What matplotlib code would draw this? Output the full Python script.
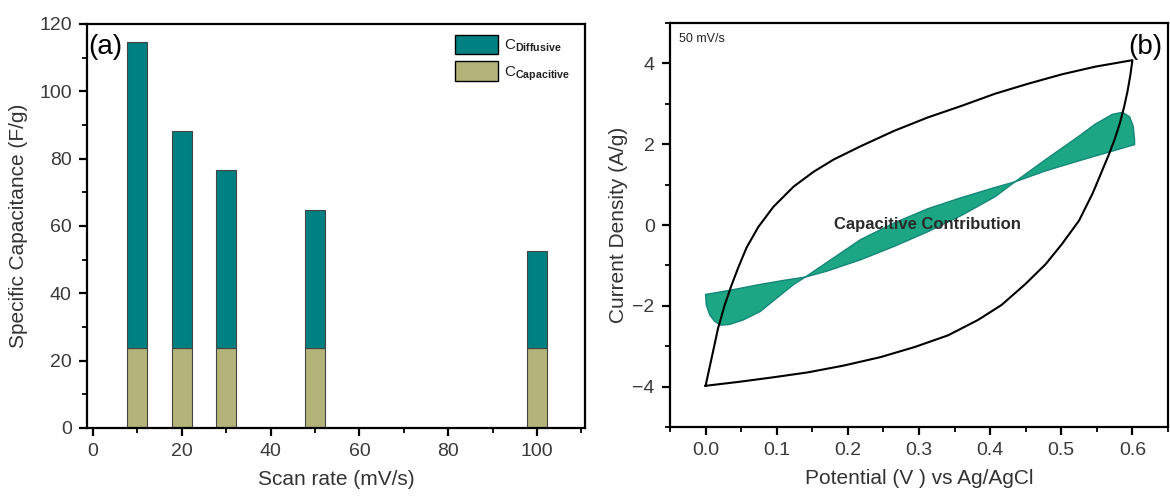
import matplotlib
matplotlib.use("Agg")
import matplotlib.pyplot as plt
from matplotlib.ticker import MultipleLocator, FormatStrFormatter

plt.rcParams['font.family'] = ['Liberation Sans', 'DejaVu Sans']
plt.rcParams['mathtext.fontset'] = 'custom'
plt.rcParams['mathtext.rm'] = 'Liberation Sans'
plt.rcParams['mathtext.bf'] = 'Liberation Sans:bold'

# (a) capacitance split per scan rate
scan_rates = [10, 20, 30, 50, 100]
total_cap = [114.8, 88.1, 76.5, 64.8, 52.6]
capacitive_cap = [23.9, 23.9, 23.9, 23.9, 23.9]
diffusive_cap = [t - c for t, c in zip(total_cap, capacitive_cap)]

# (b) CV at 50 mV/s, anodic and cathodic sweeps
cv_fwd_v = [0.000, 0.0104, 0.0175, 0.0269, 0.0363, 0.0458, 0.0576, 0.0741, 0.0953,
            0.1237, 0.152, 0.180, 0.218, 0.265, 0.312, 0.360, 0.407, 0.454, 0.501,
            0.548, 0.600]
cv_fwd_i = [-3.98, -3.14, -2.56, -1.98, -1.50, -1.06, -0.56, -0.05, 0.45,
            0.95, 1.32, 1.62, 1.95, 2.33, 2.66, 2.95, 3.25, 3.50, 3.73,
            3.92, 4.08]
cv_rev_v = [0.600, 0.597, 0.593, 0.588, 0.582, 0.575, 0.567, 0.558, 0.544, 0.525,
            0.501, 0.478, 0.449, 0.416, 0.383, 0.341, 0.294, 0.246, 0.194, 0.143,
            0.095, 0.048, 0.000]
cv_rev_i = [4.08, 3.70, 3.30, 2.90, 2.50, 2.12, 1.75, 1.37, 0.78, 0.11,
            -0.47, -0.97, -1.47, -1.98, -2.35, -2.73, -3.02, -3.27, -3.48, -3.65,
            -3.77, -3.88, -3.98]

# capacitive part of the current (closed loop, crosses itself twice)
cap_fwd_v = [0.000, 0.039, 0.077, 0.110, 0.140, 0.171, 0.218, 0.265, 0.312, 0.360,
             0.407, 0.435, 0.478, 0.525, 0.548, 0.572, 0.586, 0.596, 0.601, 0.603]
cap_fwd_i = [-1.72, -1.60, -1.47, -1.37, -1.29, -1.14, -0.86, -0.53, -0.17, 0.24,
             0.70, 1.07, 1.62, 2.20, 2.50, 2.74, 2.79, 2.68, 2.45, 2.12]
cap_rev_v = [0.603, 0.572, 0.525, 0.478, 0.435, 0.407, 0.360, 0.312, 0.265, 0.218,
             0.171, 0.140, 0.124, 0.100, 0.077, 0.053, 0.034, 0.022, 0.013, 0.006,
             0.001]
cap_rev_i = [1.99, 1.83, 1.59, 1.34, 1.07, 0.93, 0.68, 0.40, 0.05, -0.36,
             -0.92, -1.29, -1.47, -1.81, -2.14, -2.35, -2.46, -2.48, -2.39, -2.23,
             -1.98]

teal = '#008080'
olive = '#b3b37a'
tick_col = '#3a3a3a'


def style_axes(ax):
    for s in ax.spines.values():
        s.set_linewidth(1.6)
    ax.tick_params(which='major', direction='out', length=6, width=1.6,
                   labelsize=14, labelcolor=tick_col, pad=5,
                   top=False, right=False)
    ax.tick_params(which='minor', direction='out', length=3.5, width=1.3,
                   top=False, right=False)


fig = plt.figure(figsize=(11.7, 5.0), dpi=100)

# ---- panel (a) ----
ax1 = fig.add_axes([87 / 1170, 72 / 500, 498 / 1170, 404 / 500])
b_cap = ax1.bar(scan_rates, capacitive_cap, width=4.5, color=olive,
                edgecolor='#444444', linewidth=0.8)
b_dif = ax1.bar(scan_rates, diffusive_cap, width=4.5, bottom=capacitive_cap,
                color=teal, edgecolor='#444444', linewidth=0.8)
ax1.set_xlim(-1.35, 110.8)
ax1.set_ylim(0, 120)
ax1.xaxis.set_major_locator(MultipleLocator(20))
ax1.xaxis.set_minor_locator(MultipleLocator(10))
ax1.yaxis.set_major_locator(MultipleLocator(20))
ax1.yaxis.set_minor_locator(MultipleLocator(10))
style_axes(ax1)
ax1.set_xlabel('Scan rate (mV/s)', fontsize=15, color='#333333')
ax1.set_ylabel('Specific Capacitance (F/g)', fontsize=15, color='#333333')
ax1.xaxis.set_label_coords(0.5, -0.105)
ax1.yaxis.set_label_coords(-0.118, 0.5)
ax1.text(0.002, 0.943, '(a)', transform=ax1.transAxes, fontsize=20,
         ha='left', va='center')
leg = ax1.legend([b_dif, b_cap],
                 [r'C$_{\mathbf{Diffusive}}$', r'C$_{\mathbf{Capacitive}}$'],
                 loc='upper left', bbox_to_anchor=(0.717, 1.0), frameon=False,
                 fontsize=11, handlelength=2.8, handleheight=1.6,
                 labelspacing=0.45, handletextpad=0.45, borderaxespad=0.3)
for h in leg.legend_handles:
    h.set_edgecolor('black')
    h.set_linewidth(1.0)
for t in leg.get_texts():
    t.set_color('#222222')

# ---- panel (b) ----
ax2 = fig.add_axes([670 / 1170, 73 / 500, 498 / 1170, 404 / 500])
ax2.fill(cap_fwd_v + cap_rev_v, cap_fwd_i + cap_rev_i, facecolor='#1da683',
         edgecolor='#14877a', linewidth=1.0, zorder=2)
ax2.plot(cv_fwd_v + cv_rev_v, cv_fwd_i + cv_rev_i, color='black', lw=1.5,
         zorder=3)
ax2.set_xlim(-0.05, 0.65)
ax2.set_ylim(-5, 5)
ax2.xaxis.set_major_locator(MultipleLocator(0.1))
ax2.xaxis.set_minor_locator(MultipleLocator(0.05))
ax2.yaxis.set_major_locator(MultipleLocator(2))
ax2.yaxis.set_minor_locator(MultipleLocator(1))
ax2.xaxis.set_major_formatter(FormatStrFormatter('%.1f'))
style_axes(ax2)
ax2.set_xlabel('Potential (V ) vs Ag/AgCl', fontsize=15, color='#333333')
ax2.set_ylabel('Current Density (A/g)', fontsize=15, color='#333333')
ax2.xaxis.set_label_coords(0.5, -0.105)
ax2.yaxis.set_label_coords(-0.084, 0.5)
ax2.text(0.018, 0.975, '50 mV/s', transform=ax2.transAxes, fontsize=9,
         ha='left', va='top', color='#222222')
ax2.text(0.988, 0.94, '(b)', transform=ax2.transAxes, fontsize=20,
         ha='right', va='center')
ax2.text(0.312, 0.02, 'Capacitive Contribution', fontsize=12,
         fontweight='bold', color='#2a2a2a', ha='center', va='center',
         zorder=4)

fig.savefig('out.png', dpi=100)
